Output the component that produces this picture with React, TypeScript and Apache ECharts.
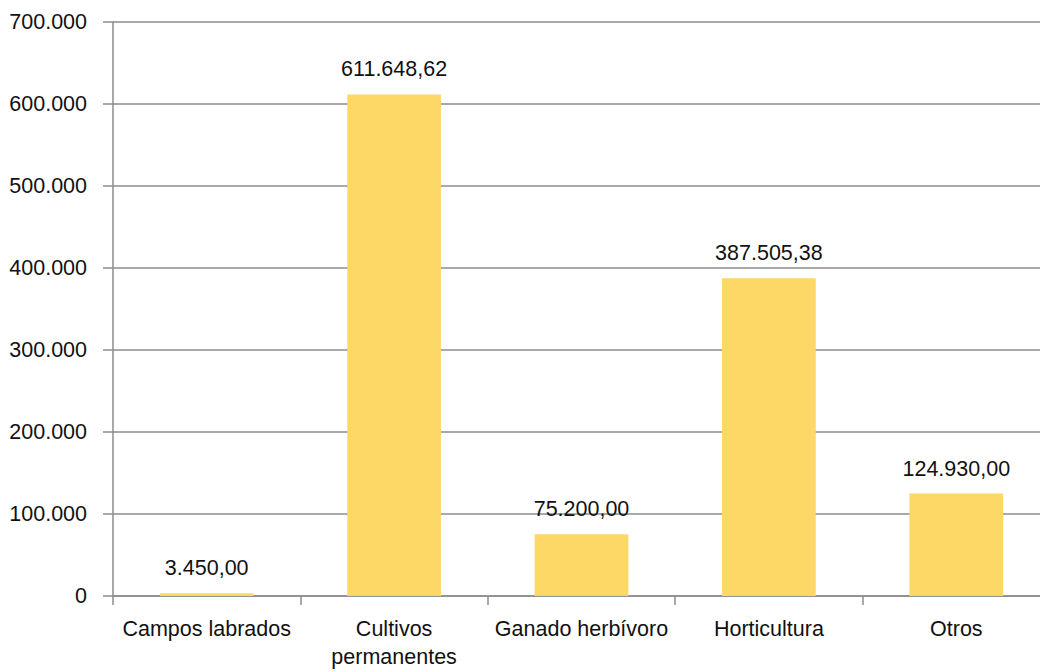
import React, { useEffect, useRef } from "react";
import * as echarts from "echarts";

const categories = ["Campos labrados", "Cultivos\npermanentes", "Ganado herbívoro", "Horticultura", "Otros"];
const values = [3450, 611648.62, 75200, 387505.38, 124930];
const yMax = 700000;
const yInterval = 100000;

const FONT = "'Liberation Sans Narrow', 'Arial Narrow', 'Liberation Sans', Arial, sans-serif";
const FS = 21.5;

function fmtThousands(n: number): string {
  return Math.round(n).toString().replace(/\B(?=(\d{3})+(?!\d))/g, ".");
}
function fmtValue(n: number): string {
  const [i, d] = n.toFixed(2).split(".");
  return fmtThousands(Number(i)) + "," + d;
}

export default function App() {
  const ref = useRef<HTMLDivElement>(null);
  useEffect(() => {
    const chart = echarts.init(ref.current!, null, { renderer: "svg" });
    chart.setOption({
      animation: false,
      grid: {
        left: 113,
        right: -10,
        top: 22,
        bottom: 76,
        containLabel: false,
        outerBoundsMode: "none",
      },
      xAxis: {
        type: "category",
        data: categories,
        axisLine: { show: true, lineStyle: { color: "#8c8c8c", width: 1.5 } },
        axisTick: { show: true, length: 9, lineStyle: { color: "#8c8c8c", width: 1.5 } },
        axisLabel: {
          color: "#111",
          fontFamily: FONT,
          fontSize: FS,
          margin: 19,
          lineHeight: 28,
          interval: 0,
        },
      },
      yAxis: {
        type: "value",
        min: 0,
        max: yMax,
        interval: yInterval,
        axisLine: { show: true, lineStyle: { color: "#8c8c8c", width: 1.5 } },
        axisTick: { show: true, length: 10, lineStyle: { color: "#8c8c8c", width: 1.5 } },
        splitLine: { show: true, lineStyle: { color: "#8c8c8c", width: 1.5 } },
        axisLabel: {
          color: "#111",
          fontFamily: FONT,
          fontSize: FS,
          margin: 26,
          formatter: (v: number) => fmtThousands(v),
        },
      },
      series: [
        {
          type: "bar",
          data: values,
          barWidth: "50%",
          itemStyle: { color: "#FDD867" },
          label: {
            show: true,
            position: "top",
            distance: 14,
            color: "#111",
            fontFamily: FONT,
            fontSize: FS,
            formatter: (p: any) => fmtValue(p.value),
          },
        },
      ],
    });
    return () => chart.dispose();
  }, []);
  return (
    <div
      ref={ref}
      style={{ position: "absolute", left: 0, top: 0, width: 1040, height: 672, background: "#fff" }}
    />
  );
}
